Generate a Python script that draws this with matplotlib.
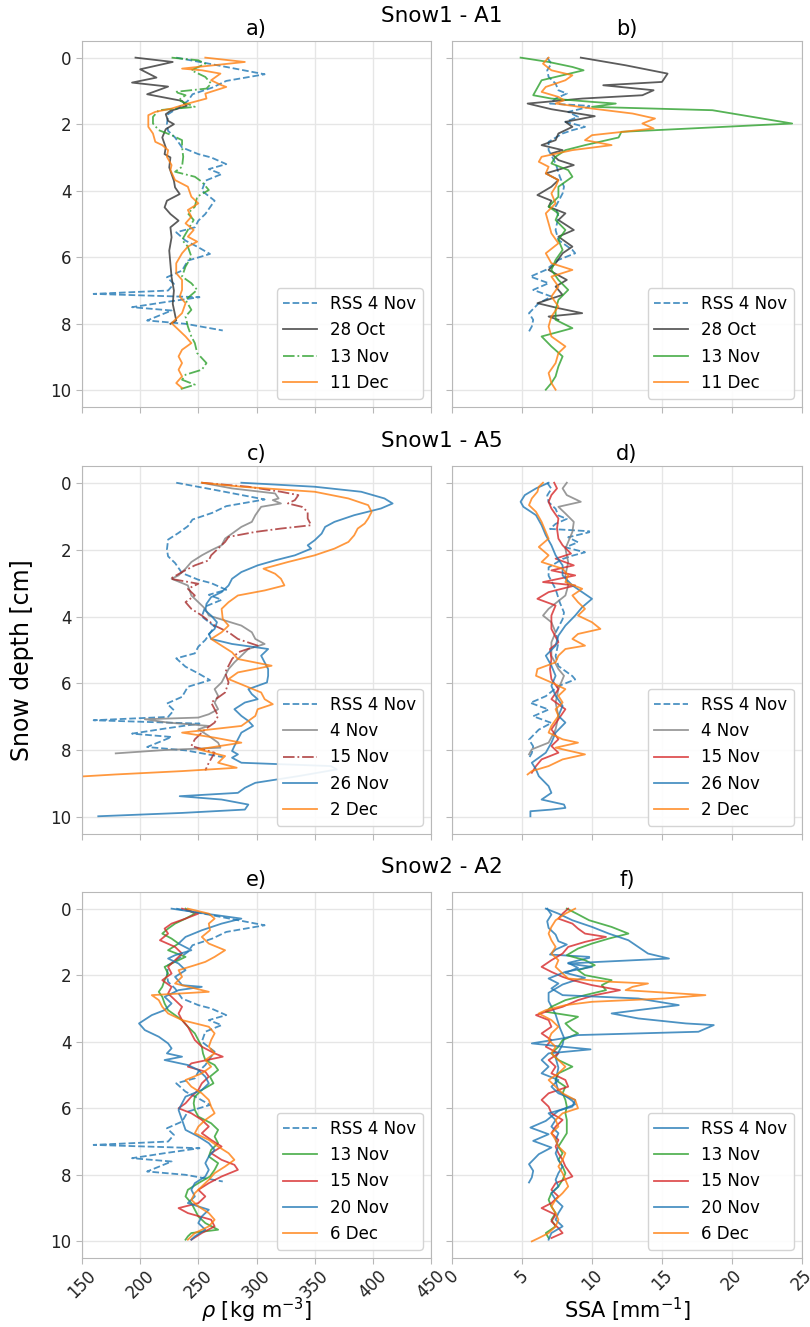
import matplotlib
matplotlib.use("Agg")
import matplotlib.pyplot as plt

# ---------------- shared RSS profiles ----------------
rss_rho_d = [0.0, 0.2, 0.5, 0.7, 0.9, 1.1, 1.3, 1.5, 1.7, 2.0, 2.2, 2.4, 2.7, 2.9, 3.0, 3.2, 3.35, 3.5, 3.7, 4.0,
             4.3, 4.7, 4.9, 5.1, 5.25, 5.5, 5.7, 5.9, 6.1, 6.4, 6.6, 6.8, 7.0, 7.1, 7.2, 7.35, 7.5, 7.6, 7.8, 7.9, 8.0, 8.2]
rss_rho = [231, 262, 307, 274, 262, 245, 241, 233, 224, 223, 224, 230, 236, 250, 261, 274, 259, 270, 256, 253,
           264, 256, 250, 247, 231, 239, 250, 260, 241, 236, 223, 229, 224, 160, 251, 221, 193, 227, 213, 206, 239, 271]

rss_ssa_d = [0, 0.18, 0.38, 0.58, 0.78, 0.98, 1.08, 1.23, 1.38, 1.45, 1.48, 1.63, 1.78, 1.93, 2.08, 2.18, 2.28, 2.53,
             2.78, 3.18, 3.58, 3.88, 4.08, 4.48, 4.78, 5.18, 5.48, 5.78, 5.88, 6.08, 6.38, 6.58, 6.78, 6.98, 7.18,
             7.38, 7.68, 7.88, 8.08, 8.23]
rss_ssa = [6.8, 7.1, 6.8, 6.9, 7.4, 7.6, 8.2, 7.4, 7.0, 9.8, 9.8, 8.3, 9.0, 8.1, 9.5, 8.6, 7.9, 6.9, 6.9, 7.4, 7.7,
           8.0, 7.9, 7.4, 7.6, 7.4, 7.6, 8.6, 8.8, 7.6, 6.7, 5.6, 6.9, 5.8, 7.1, 6.2, 5.5, 5.8, 5.7, 5.5]

# ---------------- Snow1 - A1 ----------------
a_28oct_d = [0, 0.13, 0.35, 0.6, 0.75, 0.87, 1.1, 1.3, 1.45, 1.6, 1.7, 1.9, 2.0, 2.15, 2.4, 2.7, 2.9, 3.0, 3.3, 3.7,
             3.9, 4.1, 4.3, 4.5, 4.7, 4.9, 5.1, 5.4, 5.8, 6.2, 6.6, 7.0, 7.4, 7.9, 8.0]
a_28oct = [196, 228, 200, 214, 193, 224, 206, 236, 240, 226, 222, 224, 229, 222, 219, 222, 221, 226, 225, 229,
           230, 234, 223, 221, 226, 233, 226, 227, 225, 226, 227, 229, 228, 231, 226]

a_13nov_d = [0, 0.08, 0.18, 0.38, 0.58, 0.78, 0.93, 1.03, 1.13, 1.28, 1.48, 1.58, 1.78, 1.98, 2.18, 2.33, 2.48, 2.68,
             2.98, 3.28, 3.43, 3.58, 3.73, 3.98, 4.18, 4.48, 4.68, 4.88, 5.18, 5.48, 5.68, 5.98, 6.28, 6.58, 6.78,
             6.98, 7.28, 7.58, 7.78, 8.08, 8.38, 8.58, 8.88, 9.18, 9.38, 9.53, 9.68, 9.83, 9.98]
a_13nov = [227, 250, 256, 244, 256, 261, 257, 230, 239, 233, 247, 216, 211, 211, 216, 227, 236, 236, 237, 236, 230,
           247, 253, 259, 249, 247, 241, 246, 241, 236, 241, 244, 239, 236, 244, 249, 239, 244, 239, 241, 244, 247,
           249, 257, 253, 239, 236, 247, 233]

a_11dec_d = [0, 0.13, 0.33, 0.38, 0.48, 0.68, 0.83, 0.88, 1.08, 1.23, 1.38, 1.53, 1.63, 1.73, 2.08, 2.28, 2.53, 2.63,
             2.78, 2.98, 3.23, 3.38, 3.68, 3.88, 4.18, 4.38, 4.58, 4.78, 4.98, 5.18, 5.38, 5.53, 5.68, 5.88, 6.18,
             6.48, 6.68, 6.98, 7.18, 7.38, 7.68, 7.98, 8.18, 8.38, 8.58, 8.78, 8.98, 9.18, 9.38, 9.58, 9.78, 9.93]
a_11dec = [256, 290, 236, 253, 269, 261, 270, 274, 256, 257, 241, 227, 213, 207, 207, 211, 213, 219, 224, 223, 227,
           226, 230, 241, 244, 250, 241, 244, 239, 246, 241, 249, 241, 236, 231, 231, 236, 236, 234, 239, 236, 227,
           233, 239, 244, 236, 233, 236, 233, 236, 231, 236]

b_28oct_d = [0, 0.23, 0.48, 0.73, 0.83, 0.98, 1.13, 1.23, 1.38, 1.55, 1.68, 1.76, 1.93, 2.08, 2.28, 2.48, 2.63, 2.78,
             2.88, 3.08, 3.23, 3.48, 3.68, 3.88, 4.13, 4.3, 4.48, 4.68, 4.88, 5.18, 5.38, 5.68, 5.88, 6.18, 6.38,
             6.68, 6.88, 7.13, 7.38, 7.53, 7.68, 7.78, 7.88]
b_28oct = [9.2, 12.4, 15.4, 15.0, 10.8, 14.4, 13.6, 9.3, 5.4, 7.1, 9.0, 10.2, 8.1, 8.6, 7.6, 7.4, 6.4, 7.9, 7.1, 7.6,
           8.7, 6.7, 7.6, 7.1, 6.1, 7.1, 6.9, 8.1, 7.6, 8.7, 7.6, 8.6, 7.9, 7.4, 6.9, 8.2, 7.4, 7.9, 6.1, 7.6, 9.3,
           6.9, 7.6]

b_13nov_d = [0, 0.13, 0.28, 0.38, 0.53, 0.68, 0.83, 0.98, 1.13, 1.23, 1.33, 1.38, 1.48, 1.58, 1.98, 2.23, 2.4, 2.63,
             2.78, 2.98, 3.18, 3.38, 3.58, 3.88, 4.18, 4.48, 4.68, 4.88, 5.18, 5.48, 5.78, 6.08, 6.38, 6.68, 6.98,
             7.28, 7.58, 7.88, 8.13, 8.38, 8.68, 8.98, 9.28, 9.58, 9.78, 9.98]
b_13nov = [4.9, 6.9, 8.6, 9.4, 7.9, 6.4, 6.2, 6.0, 5.8, 7.1, 10.0, 11.7, 10.0, 18.6, 24.3, 12.1, 11.9, 9.5, 8.1,
           7.4, 7.1, 8.3, 8.6, 7.6, 7.6, 6.9, 7.6, 7.4, 8.1, 7.6, 7.9, 7.4, 7.1, 7.6, 8.3, 7.6, 7.4, 7.4, 8.6, 6.4,
           7.1, 7.9, 7.6, 7.4, 7.1, 6.7]

b_11dec_d = [0, 0.18, 0.38, 0.53, 0.68, 0.88, 1.03, 1.18, 1.28, 1.38, 1.53, 1.68, 1.83, 1.98, 2.13, 2.33, 2.48, 2.63,
             2.78, 2.98, 3.13, 3.28, 3.48, 3.68, 3.88, 4.08, 4.38, 4.68, 4.98, 5.28, 5.58, 5.88, 6.18, 6.38, 6.58,
             6.88, 7.18, 7.48, 7.78, 8.08, 8.38, 8.68, 8.88, 9.18, 9.48, 9.78, 9.98]
b_11dec = [6.9, 6.5, 7.1, 8.6, 8.1, 6.7, 6.4, 7.6, 8.0, 7.4, 10.0, 12.9, 14.5, 13.6, 14.4, 10.0, 9.5, 11.4, 8.6, 6.4,
           6.2, 6.9, 6.7, 7.6, 7.4, 7.1, 7.4, 6.7, 6.9, 7.1, 7.6, 6.7, 7.1, 8.6, 7.1, 7.6, 7.1, 7.6, 7.1, 6.9, 7.1,
           8.1, 7.6, 7.4, 6.9, 7.1, 7.4]

# ---------------- Snow1 - A5 ----------------
c_4nov_d = [0, 0.17, 0.32, 0.47, 0.52, 0.62, 0.72, 0.97, 1.17, 1.32, 1.47, 1.67, 1.87, 2.02, 2.17, 2.37, 2.57, 2.77,
            2.87, 3.07, 3.37, 3.57, 3.77, 3.97, 4.12, 4.27, 4.47, 4.67, 4.82, 4.97, 5.17, 5.37, 5.57, 5.77, 5.97,
            6.17, 6.37, 6.57, 6.77, 6.92, 7.02, 7.07, 7.17, 7.27, 7.37, 7.57, 7.77, 7.92, 7.99, 8.09]
c_4nov = [253, 279, 316, 319, 314, 321, 304, 299, 296, 287, 281, 273, 270, 261, 253, 244, 239, 233, 227, 241, 244,
          250, 256, 259, 273, 287, 296, 299, 307, 293, 287, 281, 276, 273, 270, 264, 267, 264, 267, 259, 250, 204,
          224, 259, 250, 259, 267, 269, 221, 179]

c_15nov_d = [0, 0.12, 0.27, 0.37, 0.52, 0.62, 0.72, 0.87, 1.07, 1.27, 1.37, 1.47, 1.62, 1.77, 1.97, 2.17, 2.32, 2.47,
             2.67, 2.87, 3.02, 3.17, 3.37, 3.57, 3.77, 3.97, 4.27, 4.47, 4.67, 4.87, 5.07, 5.27, 5.47, 5.67, 5.97,
             6.27, 6.57, 6.77, 6.97, 7.17, 7.37, 7.67, 7.87, 8.07, 8.37, 8.6]
c_15nov = [253, 293, 321, 336, 333, 327, 339, 344, 344, 347, 321, 299, 276, 273, 267, 261, 259, 247, 236, 226, 250,
           241, 247, 239, 244, 253, 264, 276, 284, 301, 284, 279, 276, 273, 276, 273, 261, 264, 267, 264, 256, 247,
           244, 264, 259, 256]

c_26nov_d = [0, 0.12, 0.27, 0.47, 0.62, 0.77, 0.97, 1.17, 1.32, 1.52, 1.72, 1.87, 1.97, 2.17, 2.32, 2.47, 2.67, 2.87,
             3.07, 3.27, 3.42, 3.62, 3.82, 3.97, 4.17, 4.37, 4.52, 4.67, 4.82, 4.97, 5.17, 5.37, 5.57, 5.77, 5.97,
             6.17, 6.32, 6.47, 6.57, 6.77, 6.97, 7.12, 7.27, 7.47, 7.67, 7.87, 8.02, 8.12, 8.22, 8.37, 8.47, 8.57,
             8.77, 8.97, 9.12, 9.27, 9.37, 9.47, 9.62, 9.77, 9.87, 9.97]
c_26nov = [287, 350, 390, 410, 417, 407, 384, 367, 359, 356, 350, 344, 347, 333, 316, 301, 287, 279, 276, 270, 261,
           257, 256, 261, 266, 264, 259, 261, 279, 310, 304, 307, 310, 310, 309, 293, 296, 301, 290, 281, 287, 293,
           297, 287, 284, 281, 279, 284, 279, 287, 364, 369, 336, 299, 290, 284, 234, 270, 293, 290, 236, 164]

c_2dec_d = [0, 0.12, 0.27, 0.47, 0.67, 0.87, 1.07, 1.22, 1.37, 1.57, 1.77, 1.97, 2.17, 2.37, 2.57, 2.72, 2.87, 3.07,
            3.22, 3.37, 3.57, 3.77, 4.07, 4.27, 4.47, 4.67, 4.87, 5.07, 5.27, 5.47, 5.67, 5.87, 6.07, 6.27, 6.47,
            6.62, 6.77, 6.97, 7.27, 7.47, 7.62, 7.77, 7.97, 8.17, 8.37, 8.52, 8.62, 8.72, 8.8]
c_2dec = [253, 287, 350, 379, 396, 399, 396, 393, 387, 384, 379, 367, 350, 327, 306, 316, 321, 324, 307, 284, 276,
          270, 271, 276, 270, 261, 270, 279, 284, 313, 284, 276, 290, 304, 307, 314, 301, 299, 287, 236, 264, 287,
          250, 273, 267, 283, 236, 179, 140]

d_4nov_d = [0, 0.17, 0.37, 0.57, 0.72, 0.92, 1.17, 1.47, 1.77, 1.97, 2.37, 2.77, 3.07, 3.37, 3.77, 3.97, 4.17, 4.47,
            4.77, 5.17, 5.57, 5.77, 6.17, 6.57, 6.97, 7.37, 7.77, 7.97, 8.12]
d_4nov = [8.2, 7.9, 8.2, 9.2, 7.6, 8.1, 8.7, 8.6, 8.3, 8.1, 8.3, 8.1, 8.3, 8.1, 6.9, 6.5, 7.1, 7.4, 7.1, 7.1, 7.6,
          8.0, 7.6, 7.4, 7.6, 7.4, 6.9, 5.7, 5.5]

d_15nov_d = [0, 0.17, 0.37, 0.57, 0.77, 1.07, 1.37, 1.67, 1.87, 2.12, 2.27, 2.47, 2.62, 2.77, 2.97, 3.07, 3.27, 3.47,
             3.67, 3.97, 4.37, 4.77, 4.97, 5.27, 5.57, 5.87, 6.17, 6.47, 6.77, 7.07, 7.37, 7.67, 7.87, 8.07, 8.27,
             8.47, 8.67]
d_15nov = [7.3, 7.5, 7.1, 6.9, 7.1, 7.6, 7.5, 7.6, 7.9, 8.5, 7.4, 8.7, 7.1, 8.8, 6.5, 8.8, 6.9, 6.1, 7.4, 7.1, 7.1,
           7.6, 7.0, 7.1, 7.0, 7.1, 7.6, 7.1, 8.1, 7.6, 7.1, 7.6, 7.1, 7.6, 6.4, 6.0, 5.7]

d_26nov_d = [0, 0.17, 0.37, 0.57, 0.72, 0.97, 1.27, 1.57, 1.87, 2.17, 2.47, 2.77, 3.07, 3.27, 3.47, 3.72, 3.97, 4.27,
             4.57, 4.87, 5.17, 5.47, 5.77, 6.07, 6.37, 6.67, 6.97, 7.17, 7.47, 7.77, 8.07, 8.37, 8.57, 8.77, 9.07,
             9.27, 9.47, 9.62, 9.72, 9.77, 9.82, 9.97]
d_26nov = [6.9, 6.0, 5.2, 4.9, 5.1, 6.0, 6.4, 6.7, 7.1, 7.4, 7.9, 7.9, 8.6, 9.3, 10.0, 9.3, 8.8, 8.1, 7.6, 7.4, 6.7,
           7.1, 7.4, 7.1, 7.4, 7.9, 7.6, 8.1, 7.4, 7.1, 6.7, 5.7, 6.0, 6.2, 6.9, 7.1, 6.4, 8.0, 8.1, 7.1, 5.6, 5.6]

d_2dec_d = [0, 0.12, 0.27, 0.47, 0.67, 0.87, 1.17, 1.47, 1.67, 1.92, 2.17, 2.37, 2.57, 2.77, 2.97, 3.17, 3.37, 3.57,
            3.77, 3.97, 4.17, 4.37, 4.52, 4.67, 4.87, 4.97, 5.17, 5.37, 5.57, 5.77, 5.97, 6.17, 6.37, 6.57, 6.77,
            6.97, 7.27, 7.47, 7.67, 7.77, 7.92, 8.12, 8.27, 8.47, 8.62, 8.72]
d_2dec = [6.5, 6.2, 6.1, 5.7, 5.5, 6.0, 6.4, 6.7, 6.9, 6.2, 6.9, 6.4, 7.9, 8.3, 8.1, 9.3, 8.6, 9.0, 9.5, 9.0, 10.0,
          10.6, 9.0, 8.6, 9.5, 8.1, 7.6, 7.4, 6.1, 6.0, 7.1, 8.1, 7.6, 7.9, 7.4, 7.6, 7.1, 6.9, 7.9, 9.0, 7.4, 9.5,
          7.9, 6.9, 5.7, 5.4]

# ---------------- Snow2 - A2 ----------------
e_13nov_d = [0, 0.15, 0.3, 0.45, 0.6, 0.75, 0.9, 1.05, 1.25, 1.45, 1.6, 1.75, 1.95, 2.15, 2.35, 2.5, 2.65, 2.85,
             3.05, 3.2, 3.35, 3.55, 3.75, 3.95, 4.15, 4.35, 4.55, 4.7, 4.85, 5.05, 5.25, 5.45, 5.65, 5.85, 6.05,
             6.25, 6.45, 6.65, 6.85, 7.05, 7.25, 7.45, 7.65, 7.85, 8.05, 8.25, 8.45, 8.65, 8.85, 9.05, 9.25, 9.45,
             9.65, 9.75, 9.85, 9.95]
e_13nov = [239, 247, 239, 230, 224, 219, 227, 233, 224, 239, 230, 221, 224, 221, 219, 216, 219, 221, 224, 230, 236,
           241, 247, 250, 253, 254, 256, 264, 267, 260, 263, 253, 247, 246, 247, 250, 261, 267, 264, 267, 261, 259,
           267, 264, 260, 250, 241, 239, 244, 247, 250, 256, 267, 244, 241, 239]

e_15nov_d = [0, 0.15, 0.3, 0.45, 0.6, 0.75, 0.95, 1.15, 1.35, 1.55, 1.75, 1.95, 2.15, 2.35, 2.55, 2.75, 2.95, 3.15,
             3.35, 3.55, 3.75, 3.95, 4.15, 4.35, 4.45, 4.65, 4.75, 4.9, 5.05, 5.25, 5.45, 5.65, 5.85, 6.0, 6.15,
             6.35, 6.55, 6.75, 6.95, 7.15, 7.35, 7.55, 7.7, 7.85, 8.05, 8.25, 8.45, 8.65, 8.85, 9.0, 9.15, 9.35,
             9.55, 9.75, 9.95]
e_15nov = [236, 250, 239, 227, 221, 224, 217, 230, 236, 230, 224, 227, 219, 227, 224, 230, 236, 233, 236, 241, 244,
           247, 253, 264, 271, 244, 241, 256, 259, 253, 250, 244, 239, 233, 244, 253, 259, 253, 261, 270, 261, 270,
           281, 284, 270, 259, 250, 256, 250, 233, 241, 261, 264, 253, 244]

e_20nov_d = [0, 0.15, 0.3, 0.45, 0.65, 0.85, 1.05, 1.25, 1.4, 1.5, 1.65, 1.85, 2.05, 2.3, 2.35, 2.45, 2.65, 2.85,
             3.05, 3.2, 3.45, 3.65, 3.85, 4.05, 4.2, 4.35, 4.45, 4.55, 4.7, 4.85, 5.05, 5.25, 5.45, 5.65, 5.85, 6.05,
             6.35, 6.65, 6.85, 7.05, 7.25, 7.45, 7.65, 7.85, 8.05, 8.25, 8.45, 8.65, 8.85, 9.05, 9.25, 9.45, 9.65,
             9.85, 9.95]
e_20nov = [227, 256, 287, 270, 253, 239, 233, 244, 230, 224, 233, 239, 230, 236, 253, 233, 221, 227, 221, 210, 199,
           204, 216, 224, 227, 223, 236, 221, 241, 250, 256, 259, 253, 239, 236, 233, 236, 239, 250, 259, 264, 259,
           256, 259, 256, 247, 244, 247, 241, 259, 253, 250, 256, 247, 244]

e_6dec_d = [0, 0.15, 0.3, 0.45, 0.65, 0.85, 1.05, 1.25, 1.45, 1.6, 1.7, 1.85, 2.05, 2.25, 2.5, 2.6, 2.75, 2.95,
            3.15, 3.35, 3.55, 3.75, 3.95, 4.15, 4.35, 4.55, 4.75, 4.95, 5.15, 5.35, 5.55, 5.75, 5.95, 6.15, 6.35,
            6.55, 6.75, 6.95, 7.15, 7.35, 7.55, 7.75, 7.95, 8.15, 8.35, 8.55, 8.75, 8.95, 9.15, 9.35, 9.55, 9.75, 9.95]
e_6dec = [241, 259, 264, 259, 260, 253, 259, 273, 264, 256, 247, 233, 236, 230, 259, 210, 216, 219, 224, 236, 259,
          264, 261, 259, 264, 256, 261, 253, 239, 244, 253, 259, 261, 264, 256, 250, 247, 259, 267, 276, 281, 273,
          264, 259, 253, 247, 244, 250, 259, 264, 259, 247, 241]

f_13nov_d = [0, 0.15, 0.35, 0.55, 0.75, 0.9, 1.05, 1.2, 1.4, 1.55, 1.7, 1.85, 2.0, 2.15, 2.3, 2.45, 2.6, 2.75, 2.95,
             3.1, 3.25, 3.45, 3.65, 3.75, 3.95, 4.15, 4.35, 4.55, 4.75, 4.95, 5.15, 5.35, 5.55, 5.75, 5.95, 6.15,
             6.35, 6.55, 6.75, 6.95, 7.15, 7.35, 7.55, 7.75, 7.95, 8.15, 8.35, 8.55, 8.75, 8.95, 9.15, 9.35, 9.55,
             9.75, 9.9]
f_13nov = [8.2, 8.9, 9.8, 11.4, 12.6, 11.2, 10.0, 9.0, 8.2, 9.5, 10.2, 9.0, 9.5, 11.4, 10.7, 11.0, 9.5, 8.1, 7.1,
           6.7, 9.0, 8.1, 8.6, 9.0, 7.9, 7.6, 7.1, 7.6, 8.6, 7.6, 7.4, 8.1, 7.9, 8.1, 8.2, 8.1, 8.2, 8.2, 8.2, 7.9,
           7.6, 7.9, 7.6, 7.9, 8.1, 7.9, 7.6, 7.1, 6.9, 7.1, 7.4, 7.1, 7.4, 6.7, 6.9]

f_15nov_d = [0, 0.15, 0.3, 0.45, 0.6, 0.75, 0.85, 1.0, 1.15, 1.35, 1.55, 1.75, 1.9, 2.05, 2.15, 2.3, 2.45, 2.6, 2.75,
             2.95, 3.1, 3.2, 3.35, 3.55, 3.75, 3.95, 4.15, 4.35, 4.55, 4.75, 4.95, 5.15, 5.35, 5.55, 5.75, 5.95,
             6.15, 6.35, 6.55, 6.75, 6.95, 7.15, 7.35, 7.55, 7.75, 8.05, 8.25, 8.45, 8.65, 8.85, 9.0, 9.2, 9.4, 9.6,
             9.75, 9.9]
f_15nov = [8.3, 7.9, 7.6, 8.6, 9.0, 9.5, 11.0, 9.5, 8.3, 7.9, 7.1, 6.4, 7.1, 7.9, 8.6, 10.0, 12.0, 10.2, 9.0, 7.9,
           6.7, 6.0, 6.9, 7.1, 6.4, 7.1, 6.7, 7.6, 6.9, 7.4, 7.1, 8.1, 8.3, 6.9, 6.4, 6.9, 7.1, 7.9, 7.4, 7.1, 7.6,
           7.4, 7.6, 7.9, 8.1, 8.6, 7.4, 7.1, 7.6, 7.1, 6.4, 7.4, 7.1, 7.6, 7.9, 7.1]

f_20nov_d = [0, 0.15, 0.35, 0.55, 0.75, 0.95, 1.15, 1.35, 1.5, 1.6, 1.65, 1.75, 1.9, 2.1, 2.25, 2.4, 2.6, 2.7, 2.9,
             3.05, 3.15, 3.3, 3.45, 3.5, 3.7, 3.8, 3.9, 4.05, 4.15, 4.23, 4.35, 4.55, 4.75, 4.95, 5.15, 5.35, 5.55,
             5.75, 5.95, 6.15, 6.35, 6.55, 6.75, 6.95, 7.15, 7.35, 7.55, 7.75, 7.95, 8.15, 8.35, 8.55, 8.75, 8.95,
             9.15, 9.35, 9.55, 9.75, 9.95]
f_20nov = [6.7, 7.6, 8.6, 10.0, 11.2, 12.6, 13.3, 14.0, 15.5, 10.5, 8.3, 10.0, 8.1, 6.9, 7.6, 7.1, 7.9, 13.3, 16.2,
           13.3, 11.4, 13.3, 16.7, 18.7, 17.6, 9.0, 7.9, 5.7, 7.9, 9.9, 6.9, 6.4, 6.9, 6.4, 7.6, 7.1, 7.6, 8.8, 8.6,
           6.9, 7.4, 7.1, 7.6, 7.4, 7.6, 7.4, 7.6, 7.9, 7.6, 7.4, 7.6, 7.1, 7.4, 7.9, 7.6, 7.4, 7.9, 7.1, 6.9]

f_6dec_d = [0, 0.15, 0.35, 0.55, 0.75, 0.95, 1.15, 1.35, 1.55, 1.75, 1.95, 2.1, 2.2, 2.25, 2.35, 2.45, 2.6, 2.7, 2.8,
            2.9, 3.05, 3.15, 3.35, 3.55, 3.75, 3.95, 4.15, 4.35, 4.55, 4.75, 4.95, 5.15, 5.35, 5.55, 5.75, 6.0,
            6.15, 6.35, 6.55, 6.75, 6.95, 7.15, 7.35, 7.55, 7.75, 7.95, 8.15, 8.35, 8.55, 8.75, 8.95, 9.15, 9.35,
            9.55, 9.75, 9.9, 10.0]
f_6dec = [8.8, 8.1, 7.4, 7.1, 6.9, 7.1, 7.4, 7.1, 7.6, 7.4, 7.9, 8.3, 11.4, 14.0, 12.9, 12.4, 18.1, 15.2, 10.0, 8.1,
          6.7, 6.2, 7.1, 7.6, 7.1, 6.9, 7.4, 7.1, 7.6, 8.1, 7.6, 6.9, 7.4, 7.9, 8.8, 9.0, 7.9, 7.4, 7.6, 7.1, 7.4,
          7.6, 8.1, 7.9, 7.6, 7.9, 8.1, 8.3, 7.9, 7.4, 7.1, 7.4, 7.6, 7.4, 6.9, 6.2, 5.7]

row_titles = ["Snow1 - A1", "Snow1 - A5", "Snow2 - A2"]
panel_labels = [["a)", "b)"], ["c)", "d)"], ["e)", "f)"]]
rho_ticks = [150, 200, 250, 300, 350, 400, 450]
ssa_ticks = [0, 5, 10, 15, 20, 25]
depth_ticks = [0, 2, 4, 6, 8, 10]

BLUE, ORANGE, GREEN, RED = "#1f77b4", "#ff7f0e", "#2ca02c", "#d62728"

# (depth, value, label, color, linestyle)
panels = [
    [
        [(rss_rho_d, rss_rho, "RSS 4 Nov", BLUE, "--"),
         (a_28oct_d, a_28oct, "28 Oct", "#333333", "-"),
         (a_13nov_d, a_13nov, "13 Nov", GREEN, "-."),
         (a_11dec_d, a_11dec, "11 Dec", ORANGE, "-")],
        [(rss_ssa_d, rss_ssa, "RSS 4 Nov", BLUE, "--"),
         (b_28oct_d, b_28oct, "28 Oct", "#333333", "-"),
         (b_13nov_d, b_13nov, "13 Nov", GREEN, "-"),
         (b_11dec_d, b_11dec, "11 Dec", ORANGE, "-")],
    ],
    [
        [(rss_rho_d, rss_rho, "RSS 4 Nov", BLUE, "--"),
         (c_4nov_d, c_4nov, "4 Nov", "gray", "-"),
         (c_15nov_d, c_15nov, "15 Nov", "#a52a2a", "-."),
         (c_26nov_d, c_26nov, "26 Nov", BLUE, "-"),
         (c_2dec_d, c_2dec, "2 Dec", ORANGE, "-")],
        [(rss_ssa_d, rss_ssa, "RSS 4 Nov", BLUE, "--"),
         (d_4nov_d, d_4nov, "4 Nov", "gray", "-"),
         (d_15nov_d, d_15nov, "15 Nov", RED, "-"),
         (d_26nov_d, d_26nov, "26 Nov", BLUE, "-"),
         (d_2dec_d, d_2dec, "2 Dec", ORANGE, "-")],
    ],
    [
        [(rss_rho_d, rss_rho, "RSS 4 Nov", BLUE, "--"),
         (e_13nov_d, e_13nov, "13 Nov", GREEN, "-"),
         (e_15nov_d, e_15nov, "15 Nov", RED, "-"),
         (e_20nov_d, e_20nov, "20 Nov", BLUE, "-"),
         (e_6dec_d, e_6dec, "6 Dec", ORANGE, "-")],
        [(rss_ssa_d, rss_ssa, "RSS 4 Nov", BLUE, "-"),
         (f_13nov_d, f_13nov, "13 Nov", GREEN, "-"),
         (f_15nov_d, f_15nov, "15 Nov", RED, "-"),
         (f_20nov_d, f_20nov, "20 Nov", BLUE, "-"),
         (f_6dec_d, f_6dec, "6 Dec", ORANGE, "-")],
    ],
]

W, H = 810, 1327
fig = plt.figure(figsize=(W / 100, H / 100), dpi=100)

col_px = [(82, 431), (452, 802)]
row_px = [(41, 407), (466, 834), (892, 1258)]

spine_c = "#b8b8b8"
grid_c = "#e6e6e6"
axes = [[None, None] for _ in range(3)]
for r in range(3):
    for c in range(2):
        x0, x1 = col_px[c]
        y0, y1 = row_px[r]
        rect = [x0 / W, 1 - y1 / H, (x1 - x0) / W, (y1 - y0) / H]
        kw = {}
        if r > 0:
            kw["sharex"] = axes[0][c]
        if r > 0 or c > 0:
            kw["sharey"] = axes[0][0]
        ax = fig.add_axes(rect, **kw)
        axes[r][c] = ax
        for (dd, vv, lab, col, ls) in panels[r][c]:
            ax.plot(vv, dd, color=col, ls=ls, lw=1.3, alpha=0.8, label=lab)
        ax.grid(True, color=grid_c, lw=1.0)
        ax.set_axisbelow(True)
        for s in ax.spines.values():
            s.set_color(spine_c)
        ax.tick_params(colors=spine_c, labelcolor="#222222", labelsize=12, length=4)
        ax.set_title(panel_labels[r][c], fontsize=15, pad=4)
        ax.legend(loc="lower right", fontsize=12, framealpha=0.9, edgecolor="#d0d0d0")
        if c == 0:
            ax.set_xlim(150, 450)
            ax.set_xticks(rho_ticks)
        else:
            ax.set_xlim(0, 25)
            ax.set_xticks(ssa_ticks)
        if r < 2:
            ax.tick_params(labelbottom=False)
        else:
            ax.tick_params(axis="x", pad=2)
            for lbl in ax.get_xticklabels():
                lbl.set_rotation(45)
        if c == 1:
            ax.tick_params(labelleft=False)

axes[0][0].set_ylim(10.5, -0.5)
axes[0][0].set_yticks(depth_ticks)

fig.text(257 / W, 1 - 1310 / H, r"$\rho$ [kg m$^{-3}$]", ha="center", va="center", fontsize=15)
fig.text(627 / W, 1 - 1310 / H, r"SSA [mm$^{-1}$]", ha="center", va="center", fontsize=15)

for r, t in enumerate(row_titles):
    ytop = row_px[r][0]
    fig.text(442 / W, 1 - (ytop - 25) / H, t, ha="center", va="center", fontsize=15.5)

fig.text(22 / W, 1 - 660 / H, "Snow depth [cm]", rotation=90, ha="center", va="center", fontsize=17)

fig.savefig("out.png", dpi=100)
